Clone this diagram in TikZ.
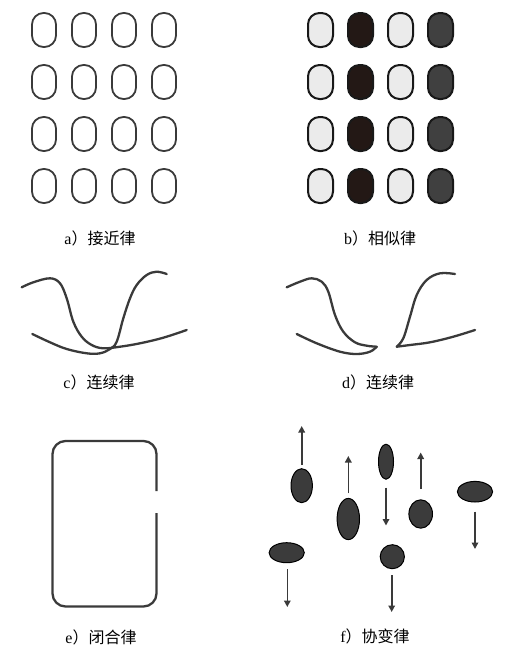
\documentclass[tikz,border=0pt]{standalone}
\usepackage{fontspec}
\setmainfont{Liberation Serif}
\newfontfamily\cjk{Noto Sans CJK SC}
\usetikzlibrary{arrows.meta}
\definecolor{lightfill}{HTML}{EBEBEB}
\definecolor{darkbrown}{HTML}{231815}
\definecolor{darkgray}{HTML}{404040}
\definecolor{linegray}{HTML}{3A3A3A}
\definecolor{blobfill}{HTML}{3B3B3B}
\begin{document}
\begin{tikzpicture}[x=1pt,y=-1pt,
  oval/.style={draw=linegray,line width=1.8pt,rounded corners=11.5pt},
  ovalb/.style={draw=black!90,line width=2pt,rounded corners=11.5pt},
  curve/.style={draw=linegray,line width=2.3pt,line cap=round,line join=round},
  captext/.style={font=\fontsize{16}{16}\selectfont,inner sep=0pt},
  blob/.style={fill=blobfill,draw=black,line width=1pt},
  arr/.style={draw=linegray,line width=1.6pt,-{Triangle[length=6.5pt,width=6.5pt]}}]
\useasboundingbox (0,0) rectangle (505,651);
% panel a
\foreach \x in {44,84,124,164}
  \foreach \y in {30,82,134,186}
    \draw[oval] (\x-12,\y-17) rectangle (\x+12,\y+17);
\node[captext] (capa) at (100,238) {a\cjk）接近律};
% panel b
\foreach \x/\c in {320.5/lightfill,360.5/darkbrown,400.5/lightfill,440.5/darkgray}
  \foreach \y in {30,82,134,186}
    \draw[ovalb,fill=\c] (\x-12.5,\y-17) rectangle (\x+12.5,\y+17);
\node[captext] (capb) at (380,238) {b\cjk）相似律};
% panel c
\draw[curve] plot[smooth,tension=0.6] coordinates {(21.7,287.3) (33.3,282.3) (50,278.3) (60,283.3) (66.7,298.3) (73.3,321.7) (81.7,336.7) (91.7,345) (103.3,348.3) (120,346.7) (140,343.3) (163.3,337.7) (186.7,330)};
\draw[curve] plot[smooth,tension=0.6] coordinates {(32.3,334) (50,342.3) (66.7,349) (86.7,353.3) (100,353.3) (110,349) (116.7,341.7) (123.3,318.3) (130,298.3) (136.7,285) (146.7,275) (156.7,271.7) (166.7,274)};
\node[captext] (capc) at (99,382) {c\cjk）连续律};
% panel d
\draw[curve] plot[smooth,tension=0.6] coordinates {(286.7,287.3) (300,281.7) (311.7,278.3) (321.7,281.7) (328.3,291.7) (335,315) (343.3,331.7) (355,342.3) (366.7,345.7) (376.7,346.7)};
\draw[curve] plot[smooth,tension=0.6] coordinates {(376.7,346.7) (370,351.7) (356.7,354) (340,351.7) (316.7,343.3) (296.7,334)};
\draw[curve] plot[smooth,tension=0.6] coordinates {(475,330) (453.3,336.7) (430,342.3) (410,345) (396.7,346.7)};
\draw[curve] plot[smooth,tension=0.6] coordinates {(396.7,346.7) (403.3,338.3) (410,316.7) (416.7,295) (426.7,280) (440,273.3) (455,274)};
\node[captext] (capd) at (378,382) {d\cjk）连续律};
% panel e
\draw[curve,line cap=butt,rounded corners=13pt] (156.5,513) -- (156.5,606.5) -- (52.5,606.5) -- (52.5,441) -- (156.5,441) -- (156.5,491);
\node[captext] (cape) at (101,637) {e\cjk）闭合律};
% panel f
\draw[blob] (301.7,485.7) ellipse [x radius=10.7,y radius=17];
\draw[blob] (348.3,519) ellipse [x radius=11.2,y radius=20.6];
\draw[blob] (386,461.7) ellipse [x radius=7.5,y radius=17.5];
\draw[blob] (420.7,514) ellipse [x radius=11.8,y radius=14.2];
\draw[blob] (475,491.7) ellipse [x radius=17.6,y radius=10.3];
\draw[blob] (286.7,552.7) ellipse [x radius=17.6,y radius=10];
\draw[blob] (392.3,556.7) ellipse [x radius=12.1,y radius=12];
\coordinate (f1a) at (301.7,465); \coordinate (f1b) at (301.7,426);
\coordinate (f2a) at (348.3,493.3); \coordinate (f2b) at (348.3,456);
\coordinate (f3a) at (386,487.7); \coordinate (f3b) at (386,525.5);
\coordinate (f4a) at (420.7,489); \coordinate (f4b) at (420.7,452.5);
\coordinate (f5a) at (475,511.7); \coordinate (f5b) at (475,549);
\coordinate (f6a) at (287.3,569); \coordinate (f6b) at (287.3,607);
\coordinate (f7a) at (391.7,575); \coordinate (f7b) at (391.7,612);
\foreach \i in {1,...,7} \draw[arr] (f\i a) -- (f\i b);
\node[captext] (capf) at (375,636) {f\cjk）协变律};
\end{tikzpicture}
\end{document}
